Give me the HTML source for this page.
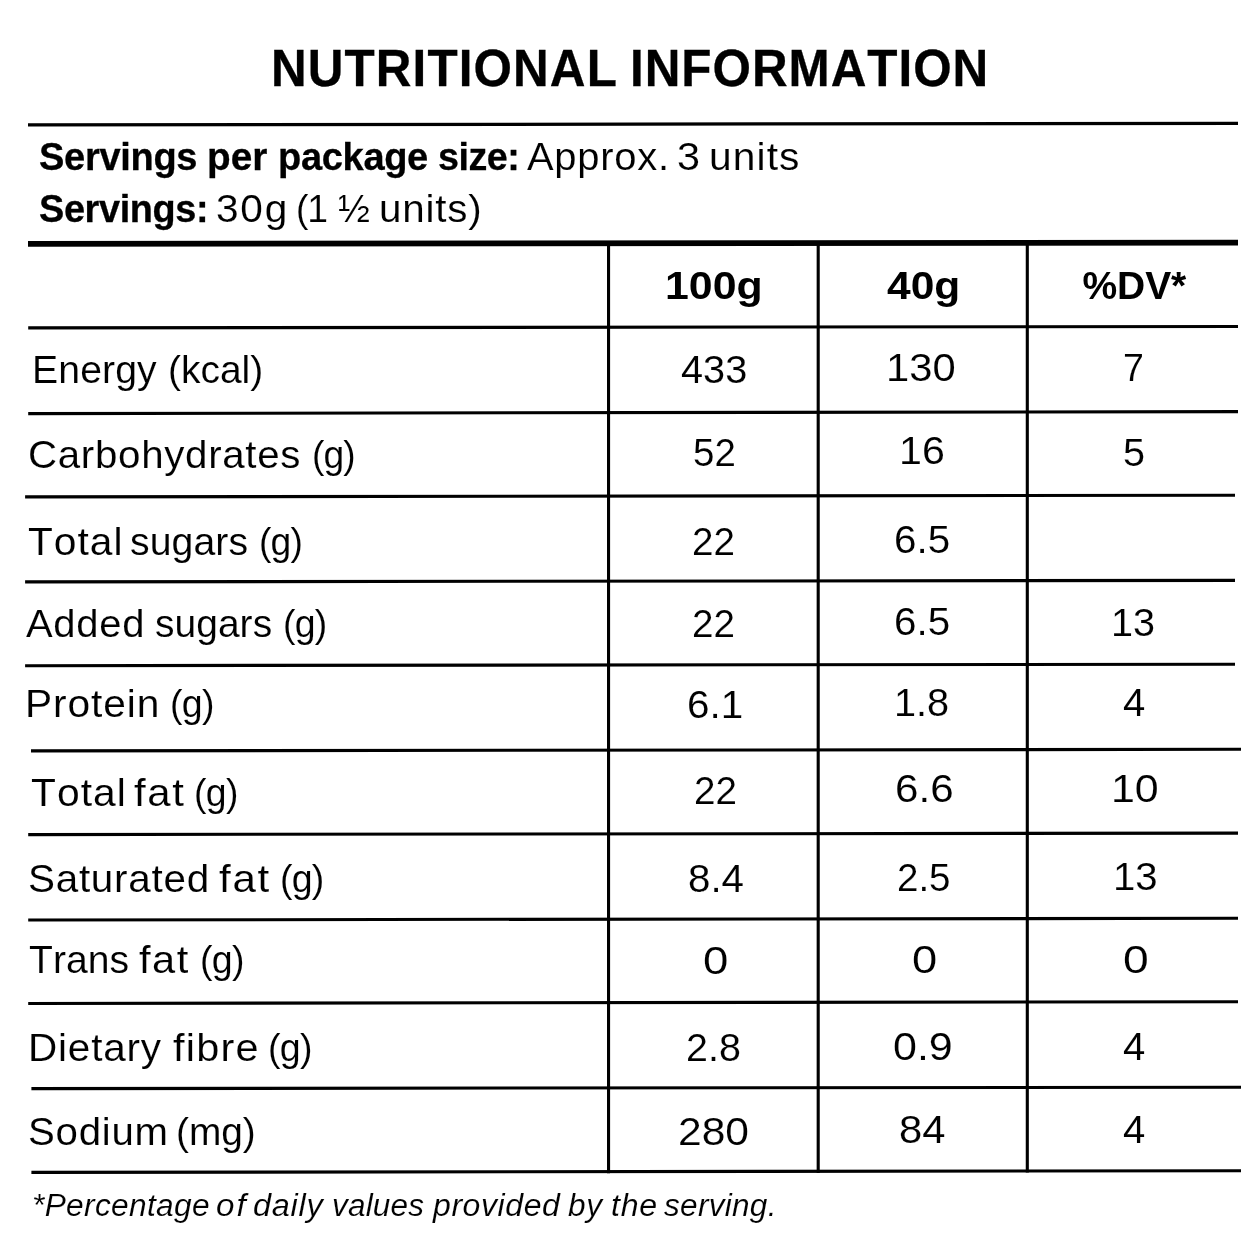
<!DOCTYPE html>
<html lang="en">
<head>
<meta charset="utf-8">
<title>Nutritional Information</title>
<style>
html,body{margin:0;padding:0;background:#fff;}
body{width:1260px;height:1260px;position:relative;overflow:hidden;font-family:"Liberation Sans", sans-serif;color:#000;}
h1,p,div{margin:0;padding:0;font-size:inherit;font-weight:normal;}
.t{position:absolute;display:block;white-space:nowrap;line-height:1;transform-origin:0 0;font-weight:normal;font-style:normal;font-kerning:none;}
.b{font-weight:bold;}
.i{font-style:italic;}
svg.rules{position:absolute;left:0;top:0;}
</style>
</head>
<body>
<svg class="rules" width="1260" height="1260" viewBox="0 0 1260 1260" shape-rendering="geometricPrecision">
<polygon fill="#000" points="28.00,123.35 1238.00,121.70 1238.00,124.90 28.00,126.55"/>
<polygon fill="#000" points="28.00,240.95 1238.00,239.70 1238.00,245.60 28.00,246.85"/>
<polygon fill="#000" points="28.20,326.35 1238.00,324.95 1238.00,328.05 28.20,329.45"/>
<polygon fill="#000" points="28.20,412.05 1238.00,410.05 1238.00,413.15 28.20,415.15"/>
<polygon fill="#000" points="25.10,495.35 1235.00,493.65 1235.00,496.75 25.10,498.45"/>
<polygon fill="#000" points="25.10,580.35 1235.00,578.85 1235.00,581.95 25.10,583.45"/>
<polygon fill="#000" points="25.10,664.15 1235.00,662.65 1235.00,665.75 25.10,667.25"/>
<polygon fill="#000" points="31.00,749.35 1241.00,747.75 1241.00,750.85 31.00,752.45"/>
<polygon fill="#000" points="28.20,833.05 1238.00,831.55 1238.00,834.65 28.20,836.15"/>
<polygon fill="#000" points="28.20,918.45 1238.00,916.75 1238.00,919.85 28.20,921.55"/>
<polygon fill="#000" points="28.20,1001.95 1238.00,1000.15 1238.00,1003.25 28.20,1005.05"/>
<polygon fill="#000" points="31.40,1087.05 1241.00,1085.65 1241.00,1088.75 31.40,1090.15"/>
<polygon fill="#000" points="31.40,1170.85 1241.00,1169.15 1241.00,1172.25 31.40,1173.95"/>
<polygon fill="#000" points="607.00,243.00 610.10,243.00 610.10,1173.30 607.00,1173.30"/>
<polygon fill="#000" points="816.65,243.00 819.75,243.00 819.75,1172.90 816.65,1172.90"/>
<polygon fill="#000" points="1025.75,243.00 1028.85,243.00 1028.85,1172.50 1025.75,1172.50"/>
</svg>
<h1 class="title">
 <span class="t b" style="left:271.36px;top:42px;font-size:52.00px;letter-spacing:1.162px;transform:scaleX(0.9500);-webkit-text-stroke:0.30px #000;">NUTRITIONAL</span>
 <span class="t b" style="left:630.29px;top:42px;font-size:52.00px;letter-spacing:1.028px;transform:scaleX(0.9500);-webkit-text-stroke:0.30px #000;">INFORMATION</span>
</h1>
<p class="serv">
 <b class="t b" style="left:39.40px;top:138px;font-size:38.60px;letter-spacing:-0.304px;transform:scaleX(0.9854);-webkit-text-stroke:0.30px #000;">Servings</b>
 <b class="t b" style="left:206.74px;top:138px;font-size:38.60px;letter-spacing:0.076px;transform:scaleX(1.0038);-webkit-text-stroke:0.30px #000;">per</b>
 <b class="t b" style="left:277.96px;top:138px;font-size:38.60px;letter-spacing:-0.335px;transform:scaleX(0.9861);-webkit-text-stroke:0.30px #000;">package</b>
 <b class="t b" style="left:437.99px;top:138px;font-size:38.60px;letter-spacing:-0.490px;transform:scaleX(0.9767);-webkit-text-stroke:0.30px #000;">size:</b>
 <span class="t" style="left:527.24px;top:138px;font-size:38.60px;letter-spacing:0.713px;transform:scaleX(1.0345);-webkit-text-stroke:0.10px #fff;">Approx.</span>
 <span class="t" style="left:677.18px;top:138px;font-size:38.60px;transform:scaleX(1.0711);-webkit-text-stroke:0.10px #fff;">3</span>
 <span class="t" style="left:709.06px;top:138px;font-size:38.60px;letter-spacing:1.053px;transform:scaleX(1.0551);-webkit-text-stroke:0.10px #fff;">units</span>
</p>
<p class="serv">
 <b class="t b" style="left:39.06px;top:190px;font-size:38.60px;letter-spacing:-0.371px;transform:scaleX(0.9814);-webkit-text-stroke:0.30px #000;">Servings:</b>
 <span class="t" style="left:216.40px;top:190px;font-size:38.60px;letter-spacing:1.669px;transform:scaleX(1.0514);-webkit-text-stroke:0.10px #fff;">30g</span>
 <span class="t" style="left:296.20px;top:190px;font-size:38.60px;letter-spacing:-1.143px;transform:scaleX(0.9665);-webkit-text-stroke:0.10px #fff;">(1</span>
 <span class="t" style="left:337.87px;top:190px;font-size:38.60px;transform:scaleX(0.9921);-webkit-text-stroke:0.10px #fff;">½</span>
 <span class="t" style="left:378.50px;top:190px;font-size:38.60px;letter-spacing:0.802px;transform:scaleX(1.0451);-webkit-text-stroke:0.10px #fff;">units)</span>
</p>
<div class="row head">
 <span class="t b" style="left:664.95px;top:266px;font-size:39.00px;transform:scaleX(1.0980);">100g</span>
 <span class="t b" style="left:887.40px;top:266px;font-size:39.00px;transform:scaleX(1.0896);">40g</span>
 <span class="t b" style="left:1082.43px;top:266px;font-size:39.00px;letter-spacing:-0.056px;">%DV*</span>
</div>
<div class="row">
 <span class="t" style="left:32.32px;top:350px;font-size:39.00px;letter-spacing:0.118px;transform:scaleX(1.0043);-webkit-text-stroke:0.10px #fff;">Energy</span>
 <span class="t" style="left:167.81px;top:350px;font-size:39.00px;transform:scaleX(0.9979);-webkit-text-stroke:0.10px #fff;">(kcal)</span>
 <span class="t" style="left:681.41px;top:350px;font-size:39.00px;transform:scaleX(1.0173);-webkit-text-stroke:0.10px #fff;">433</span>
 <span class="t" style="left:885.95px;top:348px;font-size:39.00px;transform:scaleX(1.0694);-webkit-text-stroke:0.10px #fff;">130</span>
 <span class="t" style="left:1123.24px;top:348px;font-size:39.00px;transform:scaleX(0.9629);-webkit-text-stroke:0.10px #fff;">7</span>
</div>
<div class="row">
 <span class="t" style="left:28.17px;top:435px;font-size:39.00px;letter-spacing:0.681px;transform:scaleX(1.0320);-webkit-text-stroke:0.10px #fff;">Carbohydrates</span>
 <span class="t" style="left:312.09px;top:435px;font-size:39.00px;letter-spacing:-0.953px;transform:scaleX(0.9545);-webkit-text-stroke:0.10px #fff;">(g)</span>
 <span class="t" style="left:692.83px;top:433px;font-size:39.00px;transform:scaleX(0.9864);-webkit-text-stroke:0.10px #fff;">52</span>
 <span class="t" style="left:898.67px;top:431px;font-size:39.00px;transform:scaleX(1.0561);-webkit-text-stroke:0.10px #fff;">16</span>
 <span class="t" style="left:1122.90px;top:433px;font-size:39.00px;transform:scaleX(1.0153);-webkit-text-stroke:0.10px #fff;">5</span>
</div>
<div class="row">
 <span class="t" style="left:28.33px;top:522px;font-size:39.00px;letter-spacing:0.941px;transform:scaleX(1.0438);-webkit-text-stroke:0.10px #fff;">Total</span>
 <span class="t" style="left:130.19px;top:522px;font-size:39.00px;letter-spacing:0.079px;transform:scaleX(1.0046);-webkit-text-stroke:0.10px #fff;">sugars</span>
 <span class="t" style="left:258.55px;top:522px;font-size:39.00px;letter-spacing:-0.884px;transform:scaleX(0.9546);-webkit-text-stroke:0.10px #fff;">(g)</span>
 <span class="t" style="left:692.40px;top:522px;font-size:39.00px;transform:scaleX(0.9897);-webkit-text-stroke:0.10px #fff;">22</span>
 <span class="t" style="left:894.21px;top:520px;font-size:39.00px;transform:scaleX(1.0346);-webkit-text-stroke:0.10px #fff;">6.5</span>
</div>
<div class="row">
 <span class="t" style="left:26.35px;top:604px;font-size:39.00px;letter-spacing:0.695px;transform:scaleX(1.0244);-webkit-text-stroke:0.10px #fff;">Added</span>
 <span class="t" style="left:155.16px;top:604px;font-size:39.00px;letter-spacing:0.043px;transform:scaleX(0.9985);-webkit-text-stroke:0.10px #fff;">sugars</span>
 <span class="t" style="left:282.88px;top:604px;font-size:39.00px;letter-spacing:-0.861px;transform:scaleX(0.9606);-webkit-text-stroke:0.10px #fff;">(g)</span>
 <span class="t" style="left:692.40px;top:604px;font-size:39.00px;transform:scaleX(0.9897);-webkit-text-stroke:0.10px #fff;">22</span>
 <span class="t" style="left:894.21px;top:602px;font-size:39.00px;transform:scaleX(1.0346);-webkit-text-stroke:0.10px #fff;">6.5</span>
 <span class="t" style="left:1110.72px;top:603px;font-size:39.00px;transform:scaleX(1.0143);-webkit-text-stroke:0.10px #fff;">13</span>
</div>
<div class="row">
 <span class="t" style="left:24.98px;top:684px;font-size:39.00px;letter-spacing:0.873px;transform:scaleX(1.0428);-webkit-text-stroke:0.10px #fff;">Protein</span>
 <span class="t" style="left:169.67px;top:684px;font-size:39.00px;letter-spacing:-0.713px;transform:scaleX(0.9631);-webkit-text-stroke:0.10px #fff;">(g)</span>
 <span class="t" style="left:686.83px;top:685px;font-size:39.00px;transform:scaleX(1.0358);-webkit-text-stroke:0.10px #fff;">6.1</span>
 <span class="t" style="left:894.24px;top:683px;font-size:39.00px;transform:scaleX(1.0168);-webkit-text-stroke:0.10px #fff;">1.8</span>
 <span class="t" style="left:1122.86px;top:683px;font-size:39.00px;transform:scaleX(1.0288);-webkit-text-stroke:0.10px #fff;">4</span>
</div>
<div class="row">
 <span class="t" style="left:31.45px;top:773px;font-size:39.00px;letter-spacing:0.984px;transform:scaleX(1.0455);-webkit-text-stroke:0.10px #fff;">Total</span>
 <span class="t" style="left:133.79px;top:773px;font-size:39.00px;letter-spacing:1.564px;transform:scaleX(1.0743);-webkit-text-stroke:0.10px #fff;">fat</span>
 <span class="t" style="left:194.39px;top:773px;font-size:39.00px;letter-spacing:-0.715px;transform:scaleX(0.9594);-webkit-text-stroke:0.10px #fff;">(g)</span>
 <span class="t" style="left:694.10px;top:771px;font-size:39.00px;transform:scaleX(0.9897);-webkit-text-stroke:0.10px #fff;">22</span>
 <span class="t" style="left:894.95px;top:769px;font-size:39.00px;transform:scaleX(1.0811);-webkit-text-stroke:0.10px #fff;">6.6</span>
 <span class="t" style="left:1110.92px;top:769px;font-size:39.00px;transform:scaleX(1.1001);-webkit-text-stroke:0.10px #fff;">10</span>
</div>
<div class="row">
 <span class="t" style="left:27.76px;top:859px;font-size:39.00px;letter-spacing:0.720px;transform:scaleX(1.0358);-webkit-text-stroke:0.10px #fff;">Saturated</span>
 <span class="t" style="left:219.16px;top:859px;font-size:39.00px;letter-spacing:1.617px;transform:scaleX(1.0787);-webkit-text-stroke:0.10px #fff;">fat</span>
 <span class="t" style="left:279.85px;top:859px;font-size:39.00px;letter-spacing:-0.796px;transform:scaleX(0.9630);-webkit-text-stroke:0.10px #fff;">(g)</span>
 <span class="t" style="left:688.02px;top:859px;font-size:39.00px;transform:scaleX(1.0318);-webkit-text-stroke:0.10px #fff;">8.4</span>
 <span class="t" style="left:896.50px;top:858px;font-size:39.00px;transform:scaleX(0.9870);-webkit-text-stroke:0.10px #fff;">2.5</span>
 <span class="t" style="left:1112.62px;top:857px;font-size:39.00px;transform:scaleX(1.0280);-webkit-text-stroke:0.10px #fff;">13</span>
</div>
<div class="row">
 <span class="t" style="left:28.84px;top:940px;font-size:39.00px;letter-spacing:0.046px;transform:scaleX(1.0026);-webkit-text-stroke:0.10px #fff;">Trans</span>
 <span class="t" style="left:139.23px;top:940px;font-size:39.00px;letter-spacing:1.446px;transform:scaleX(1.0670);-webkit-text-stroke:0.10px #fff;">fat</span>
 <span class="t" style="left:199.88px;top:940px;font-size:39.00px;letter-spacing:-0.706px;transform:scaleX(0.9643);-webkit-text-stroke:0.10px #fff;">(g)</span>
 <span class="t" style="left:703.41px;top:941px;font-size:39.00px;transform:scaleX(1.1679);-webkit-text-stroke:0.10px #fff;">0</span>
 <span class="t" style="left:912.21px;top:940px;font-size:39.00px;transform:scaleX(1.1604);-webkit-text-stroke:0.10px #fff;">0</span>
 <span class="t" style="left:1122.79px;top:940px;font-size:39.00px;transform:scaleX(1.1857);-webkit-text-stroke:0.10px #fff;">0</span>
</div>
<div class="row">
 <span class="t" style="left:28.42px;top:1028px;font-size:39.00px;letter-spacing:0.779px;transform:scaleX(1.0383);-webkit-text-stroke:0.10px #fff;">Dietary</span>
 <span class="t" style="left:172.98px;top:1028px;font-size:39.00px;letter-spacing:1.151px;transform:scaleX(1.0634);-webkit-text-stroke:0.10px #fff;">fibre</span>
 <span class="t" style="left:267.87px;top:1028px;font-size:39.00px;letter-spacing:-0.706px;transform:scaleX(0.9643);-webkit-text-stroke:0.10px #fff;">(g)</span>
 <span class="t" style="left:686.22px;top:1028px;font-size:39.00px;transform:scaleX(1.0110);-webkit-text-stroke:0.10px #fff;">2.8</span>
 <span class="t" style="left:893.02px;top:1027px;font-size:39.00px;transform:scaleX(1.1028);-webkit-text-stroke:0.10px #fff;">0.9</span>
 <span class="t" style="left:1122.86px;top:1027px;font-size:39.00px;transform:scaleX(1.0288);-webkit-text-stroke:0.10px #fff;">4</span>
</div>
<div class="row">
 <span class="t" style="left:27.68px;top:1112px;font-size:39.00px;letter-spacing:0.732px;transform:scaleX(1.0299);-webkit-text-stroke:0.10px #fff;">Sodium</span>
 <span class="t" style="left:176.32px;top:1112px;font-size:39.00px;letter-spacing:-0.048px;transform:scaleX(0.9973);-webkit-text-stroke:0.10px #fff;">(mg)</span>
 <span class="t" style="left:677.52px;top:1112px;font-size:39.00px;transform:scaleX(1.0904);-webkit-text-stroke:0.10px #fff;">280</span>
 <span class="t" style="left:899.02px;top:1110px;font-size:39.00px;transform:scaleX(1.0699);-webkit-text-stroke:0.10px #fff;">84</span>
 <span class="t" style="left:1122.86px;top:1110px;font-size:39.00px;transform:scaleX(1.0288);-webkit-text-stroke:0.10px #fff;">4</span>
</div>
<p class="foot">
 <span class="t i" style="left:31.83px;top:1190px;font-size:31.00px;letter-spacing:0.341px;transform:scaleX(1.0203);-webkit-text-stroke:0.10px #fff;">*Percentage</span>
 <span class="t i" style="left:215.90px;top:1190px;font-size:31.00px;letter-spacing:1.804px;transform:scaleX(1.0700);-webkit-text-stroke:0.10px #fff;">of</span>
 <span class="t i" style="left:253.33px;top:1190px;font-size:31.00px;letter-spacing:0.700px;transform:scaleX(1.0459);-webkit-text-stroke:0.10px #fff;">daily</span>
 <span class="t i" style="left:332.12px;top:1190px;font-size:31.00px;letter-spacing:0.222px;transform:scaleX(1.0143);-webkit-text-stroke:0.10px #fff;">values</span>
 <span class="t i" style="left:432.80px;top:1190px;font-size:31.00px;letter-spacing:0.579px;transform:scaleX(1.0312);-webkit-text-stroke:0.10px #fff;">provided</span>
 <span class="t i" style="left:568.44px;top:1190px;font-size:31.00px;letter-spacing:0.756px;transform:scaleX(1.0169);-webkit-text-stroke:0.10px #fff;">by</span>
 <span class="t i" style="left:611.44px;top:1190px;font-size:31.00px;letter-spacing:0.746px;transform:scaleX(1.0364);-webkit-text-stroke:0.10px #fff;">the</span>
 <span class="t i" style="left:664.40px;top:1190px;font-size:31.00px;letter-spacing:0.291px;transform:scaleX(1.0168);-webkit-text-stroke:0.10px #fff;">serving.</span>
</p>
</body>
</html>
